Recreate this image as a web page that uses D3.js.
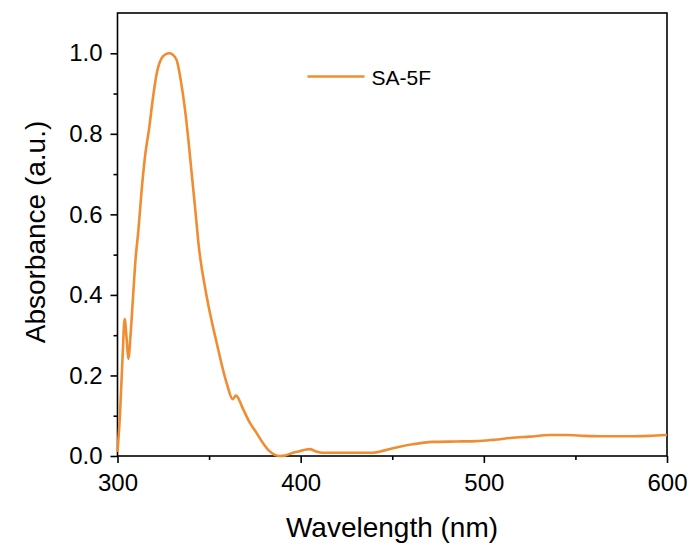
<!DOCTYPE html>
<html>
<head>
<meta charset="utf-8">
<script src="https://cdn.jsdelivr.net/npm/d3@7"></script>
<style>
  body { margin: 0; background: #fff; }
  text { font-family: "Liberation Sans", Arial, sans-serif; }
</style>
</head>
<body>
<div id="grafiek"></div>
<script>
// wavelength (nm) en absorbance
const wavelength = [300, 301.4, 302.8, 303.9, 305, 305.9, 307.2, 308.6, 309.9, 311.4, 313.2, 315, 317.4, 319.2, 321.4, 324.1, 326.5, 328.3, 330, 332.3, 334.5, 336.9, 338.7, 340.5, 342.3, 344.4, 348.7, 354.2, 359.6, 362.9, 364.7, 368.7, 372.3, 375.8, 379, 383, 388.5, 392, 395.8, 399.5, 403, 405, 408, 412, 420, 430, 439.3, 446, 454, 461, 472, 485, 496, 505, 517.7, 525, 536, 545, 555, 565, 580, 590, 600];
const absorbance = [0.01, 0.107, 0.25, 0.34, 0.29, 0.241, 0.305, 0.404, 0.491, 0.56, 0.661, 0.743, 0.818, 0.884, 0.95, 0.988, 0.998, 1.0, 0.997, 0.983, 0.934, 0.859, 0.785, 0.702, 0.619, 0.52, 0.396, 0.28, 0.181, 0.141, 0.15, 0.115, 0.082, 0.058, 0.035, 0.012, 0.0, 0.002, 0.008, 0.012, 0.016, 0.017, 0.012, 0.008, 0.008, 0.008, 0.008, 0.014, 0.023, 0.029, 0.035, 0.036, 0.037, 0.04, 0.046, 0.048, 0.052, 0.052, 0.05, 0.049, 0.049, 0.05, 0.052];
const xTicks = [300, 400, 500, 600];
const xMinor = [350, 450, 550];
const yTicks = [0.0, 0.2, 0.4, 0.6, 0.8, 1.0];
const yMinor = [0.1, 0.3, 0.5, 0.7, 0.9];
const seriesName = 'SA-5F';

const MARGIN = {top: 13, bottom: 89, left: 117.5, right: 26};
const WIDTH = 693 - MARGIN.left - MARGIN.right;
const HEIGHT = 545 - MARGIN.top - MARGIN.bottom;
const KLEUR = '#f08c32';

const SVG = d3.select('#grafiek')
  .append('svg')
    .attr('width', 693)
    .attr('height', 545)
  .append('g')
    .attr('transform', `translate(${MARGIN.left}, ${MARGIN.top})`);

const x = d3.scaleLinear().domain([300, 600]).range([0, WIDTH]);
const y = d3.scaleLinear().domain([0, 1.1]).range([HEIGHT, 0]);

// frame
SVG.append('rect')
  .attr('width', WIDTH).attr('height', HEIGHT)
  .attr('fill', 'none').attr('stroke', '#000').attr('stroke-width', 1.6);

// minor ticks
SVG.append('g')
  .attr('transform', `translate(0, ${HEIGHT})`)
  .call(d3.axisBottom(x).tickValues(xMinor).tickSize(4).tickFormat(''))
  .call(g => g.select('.domain').remove())
  .selectAll('line').attr('stroke-width', 1.6);
SVG.append('g')
  .call(d3.axisLeft(y).tickValues(yMinor).tickSize(4).tickFormat(''))
  .call(g => g.select('.domain').remove())
  .selectAll('line').attr('stroke-width', 1.6);

// major ticks
const xAxis = SVG.append('g')
  .attr('transform', `translate(0, ${HEIGHT})`)
  .call(d3.axisBottom(x).tickValues(xTicks).tickSize(7).tickPadding(11).tickFormat(d3.format('d')));
xAxis.select('.domain').remove();
xAxis.selectAll('line').attr('stroke-width', 1.6);
xAxis.selectAll('text').style('font-size', '24px').attr('fill', '#000');

const yAxis = SVG.append('g')
  .call(d3.axisLeft(y).tickValues(yTicks).tickSize(7).tickPadding(8).tickFormat(d3.format('.1f')));
yAxis.select('.domain').remove();
yAxis.selectAll('line').attr('stroke-width', 1.6);
yAxis.selectAll('text').style('font-size', '24px').attr('fill', '#000');

// curve
const lijn = d3.line()
  .x((d, i) => x(wavelength[i]))
  .y(d => y(d))
  .curve(d3.curveMonotoneX);

SVG.append('path')
  .datum(absorbance)
  .attr('fill', 'none')
  .attr('stroke', KLEUR)
  .attr('stroke-width', 2.6)
  .attr('stroke-linejoin', 'round')
  .attr('d', lijn);

// legend
SVG.append('line')
  .attr('x1', 190).attr('x2', 247)
  .attr('y1', 63.5).attr('y2', 63.5)
  .attr('stroke', KLEUR).attr('stroke-width', 2.6);
SVG.append('text')
  .attr('x', 254).attr('y', 71.5)
  .style('font-size', '21px')
  .text(seriesName);

// axis titles
SVG.append('text')
  .attr('x', 392 - MARGIN.left).attr('y', 537 - MARGIN.top)
  .attr('text-anchor', 'middle')
  .style('font-size', '28px')
  .text('Wavelength (nm)');
SVG.append('text')
  .attr('transform', `translate(${45 - MARGIN.left}, ${232 - MARGIN.top}) rotate(-90)`)
  .attr('text-anchor', 'middle')
  .style('font-size', '28px')
  .text('Absorbance (a.u.)');
</script>
</body>
</html>
